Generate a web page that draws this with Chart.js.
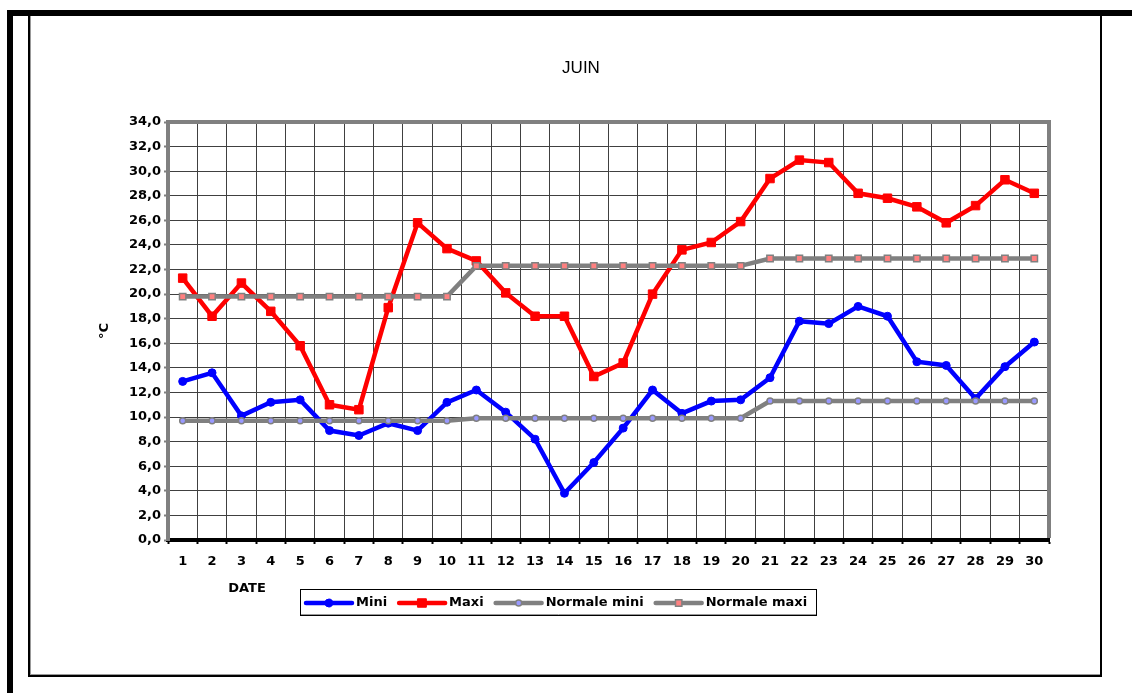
<!DOCTYPE html>
<html>
<head>
<meta charset="utf-8">
<script src="https://cdn.jsdelivr.net/npm/chart.js@4.4.1/dist/chart.umd.min.js"></script>
<style>
  html, body { margin: 0; padding: 0; background: #fff; }
  body { width: 1132px; height: 693px; position: relative; overflow: hidden; }
  .bar { position: absolute; background: #000; }
  #frame {
    position: absolute; left: 28px; top: 16px; width: 1070px; height: 659px;
    border: 2px solid #000; border-top: none;
    box-shadow: inset 1px 0 0 #999, inset 0 -1px 0 #999;
  }
  canvas { position: absolute; left: 0; top: 0; }
</style>
</head>
<body>
<div class="bar" style="left:7px;top:10px;width:1125px;height:6px"></div>
<div class="bar" style="left:7px;top:10px;width:6px;height:683px"></div>
<div id="frame"></div>
<canvas id="c" width="1132" height="693"></canvas>
<script>
// ==== données ====
const days = ["1","2","3","4","5","6","7","8","9","10","11","12","13","14","15",
              "16","17","18","19","20","21","22","23","24","25","26","27","28","29","30"];

const mini = [12.9, 13.6, 10.1, 11.2, 11.4, 8.9, 8.5, 9.5, 8.9, 11.2,
              12.2, 10.4, 8.2, 3.8, 6.3, 9.1, 12.2, 10.3, 11.3, 11.4,
              13.2, 17.8, 17.6, 19.0, 18.2, 14.5, 14.2, 11.5, 14.1, 16.1];

const maxi = [21.3, 18.2, 20.9, 18.6, 15.8, 11.0, 10.6, 18.9, 25.8, 23.7,
              22.7, 20.1, 18.2, 18.2, 13.3, 14.4, 20.0, 23.6, 24.2, 25.9,
              29.4, 30.9, 30.7, 28.2, 27.8, 27.1, 25.8, 27.2, 29.3, 28.2];

const normaleMini = [9.7, 9.7, 9.7, 9.7, 9.7, 9.7, 9.7, 9.7, 9.7, 9.7,
                     9.9, 9.9, 9.9, 9.9, 9.9, 9.9, 9.9, 9.9, 9.9, 9.9,
                     11.3, 11.3, 11.3, 11.3, 11.3, 11.3, 11.3, 11.3, 11.3, 11.3];

const normaleMaxi = [19.8, 19.8, 19.8, 19.8, 19.8, 19.8, 19.8, 19.8, 19.8, 19.8,
                     22.3, 22.3, 22.3, 22.3, 22.3, 22.3, 22.3, 22.3, 22.3, 22.3,
                     22.9, 22.9, 22.9, 22.9, 22.9, 22.9, 22.9, 22.9, 22.9, 22.9];

const yTickLabels = ["0,0","2,0","4,0","6,0","8,0","10,0","12,0","14,0","16,0",
                     "18,0","20,0","22,0","24,0","26,0","28,0","30,0","32,0","34,0"];

const FONT = "'DejaVu Sans', sans-serif";
const boldFont = { family: FONT, size: 13, weight: "bold" };

// ==== décor : cadre gris, titre, DATE, légende ====
const decor = {
  id: "decor",
  afterDraw(chart) {
    const { ctx, chartArea: a } = chart;
    ctx.save();

    // bord haut et droit du graphique
    ctx.strokeStyle = "#808080";
    ctx.lineWidth = 4;
    ctx.beginPath();
    ctx.moveTo(a.left - 2, a.top);
    ctx.lineTo(a.right, a.top);
    ctx.lineTo(a.right, a.bottom - 2);
    ctx.stroke();

    // titre
    ctx.fillStyle = "#000";
    ctx.textBaseline = "middle";
    ctx.textAlign = "center";
    ctx.font = "17px 'Liberation Sans', sans-serif";
    ctx.fillText("JUIN", 581, 68);

    ctx.font = "bold 13px " + FONT;
    ctx.fillText("DATE", 247, 589);

    // légende
    const bx = 300, by = 589, bw = 516, bh = 26;
    ctx.fillStyle = "#fff";
    ctx.fillRect(bx, by, bw, bh);
    ctx.strokeStyle = "#000";
    ctx.lineWidth = 1;
    ctx.strokeRect(bx + 0.5, by + 0.5, bw, bh);
    ctx.strokeStyle = "#999";
    ctx.beginPath();
    ctx.moveTo(bx + 1, by + bh - 0.5);
    ctx.lineTo(bx + bw, by + bh - 0.5);
    ctx.stroke();

    let x = 304;
    const cy = by + bh / 2 + 1;
    ctx.textAlign = "left";
    chart.data.datasets.forEach(ds => {
      ctx.strokeStyle = ds.borderColor;
      ctx.lineWidth = ds.borderWidth;
      ctx.lineCap = "round";
      ctx.beginPath();
      ctx.moveTo(x + 2, cy);
      ctx.lineTo(x + 48, cy);
      ctx.stroke();
      ctx.fillStyle = ds.pointBackgroundColor;
      ctx.strokeStyle = ds.pointBorderColor;
      ctx.lineWidth = ds.pointBorderWidth;
      Chart.helpers.drawPoint(ctx, {
        pointStyle: ds.pointStyle, radius: ds.pointRadius,
        rotation: 0, borderWidth: ds.pointBorderWidth
      }, x + 25, cy);
      ctx.fillStyle = "#000";
      ctx.font = "bold 13px " + FONT;
      ctx.fillText(ds.label, x + 52, cy);
      x += 52 + ctx.measureText(ds.label).width + 10;
    });

    ctx.restore();
  }
};

new Chart(document.getElementById("c"), {
  type: "line",
  data: {
    labels: days,
    datasets: [
      { label: "Mini", data: mini, borderColor: "#0000ff", borderWidth: 4.5,
        pointStyle: "circle", pointRadius: 4, pointBorderWidth: 1,
        pointBackgroundColor: "#0000ff", pointBorderColor: "#0000ff", order: 4 },
      { label: "Maxi", data: maxi, borderColor: "#ff0000", borderWidth: 4.5,
        pointStyle: "rect", pointRadius: 6, pointBorderWidth: 1,
        pointBackgroundColor: "#ff0000", pointBorderColor: "#ff0000", order: 3 },
      { label: "Normale mini", data: normaleMini, borderColor: "#808080", borderWidth: 4.5,
        pointStyle: "circle", pointRadius: 3, pointBorderWidth: 1.5,
        pointBackgroundColor: "#9999ff", pointBorderColor: "#808080", order: 2 },
      { label: "Normale maxi", data: normaleMaxi, borderColor: "#808080", borderWidth: 4.5,
        pointStyle: "rect", pointRadius: 4.5, pointBorderWidth: 1.5,
        pointBackgroundColor: "#ff8080", pointBorderColor: "#808080", order: 1 }
    ]
  },
  options: {
    responsive: false,
    animation: false,
    layout: { padding: { left: 93, top: 122, right: 83, bottom: 113 } },
    elements: { line: { tension: 0 } },
    plugins: { legend: { display: false }, title: { display: false }, tooltip: { enabled: false } },
    scales: {
      x: {
        offset: true,
        grid: { offset: true, color: "#404040", lineWidth: 1, tickLength: 4, tickColor: "#000", tickWidth: 2 },
        border: { color: "#000", width: 4 },
        ticks: { color: "#000", font: boldFont, padding: 10, maxRotation: 0, autoSkip: false },
        afterFit: s => { s.height = 40; }
      },
      y: {
        min: 0, max: 34,
        grid: { color: "#404040", lineWidth: 1, tickLength: 4, tickColor: "#808080", tickWidth: 2 },
        border: { color: "#808080", width: 4 },
        ticks: { stepSize: 2, color: "#000", font: boldFont, padding: 3,
                 callback: (v, i) => yTickLabels[i] },
        title: { display: true, text: "°C", color: "#000", font: boldFont, padding: { top: 4, bottom: 4 } },
        afterFit: s => { s.width = 75; }
      }
    }
  },
  plugins: [decor]
});
</script>
</body>
</html>
